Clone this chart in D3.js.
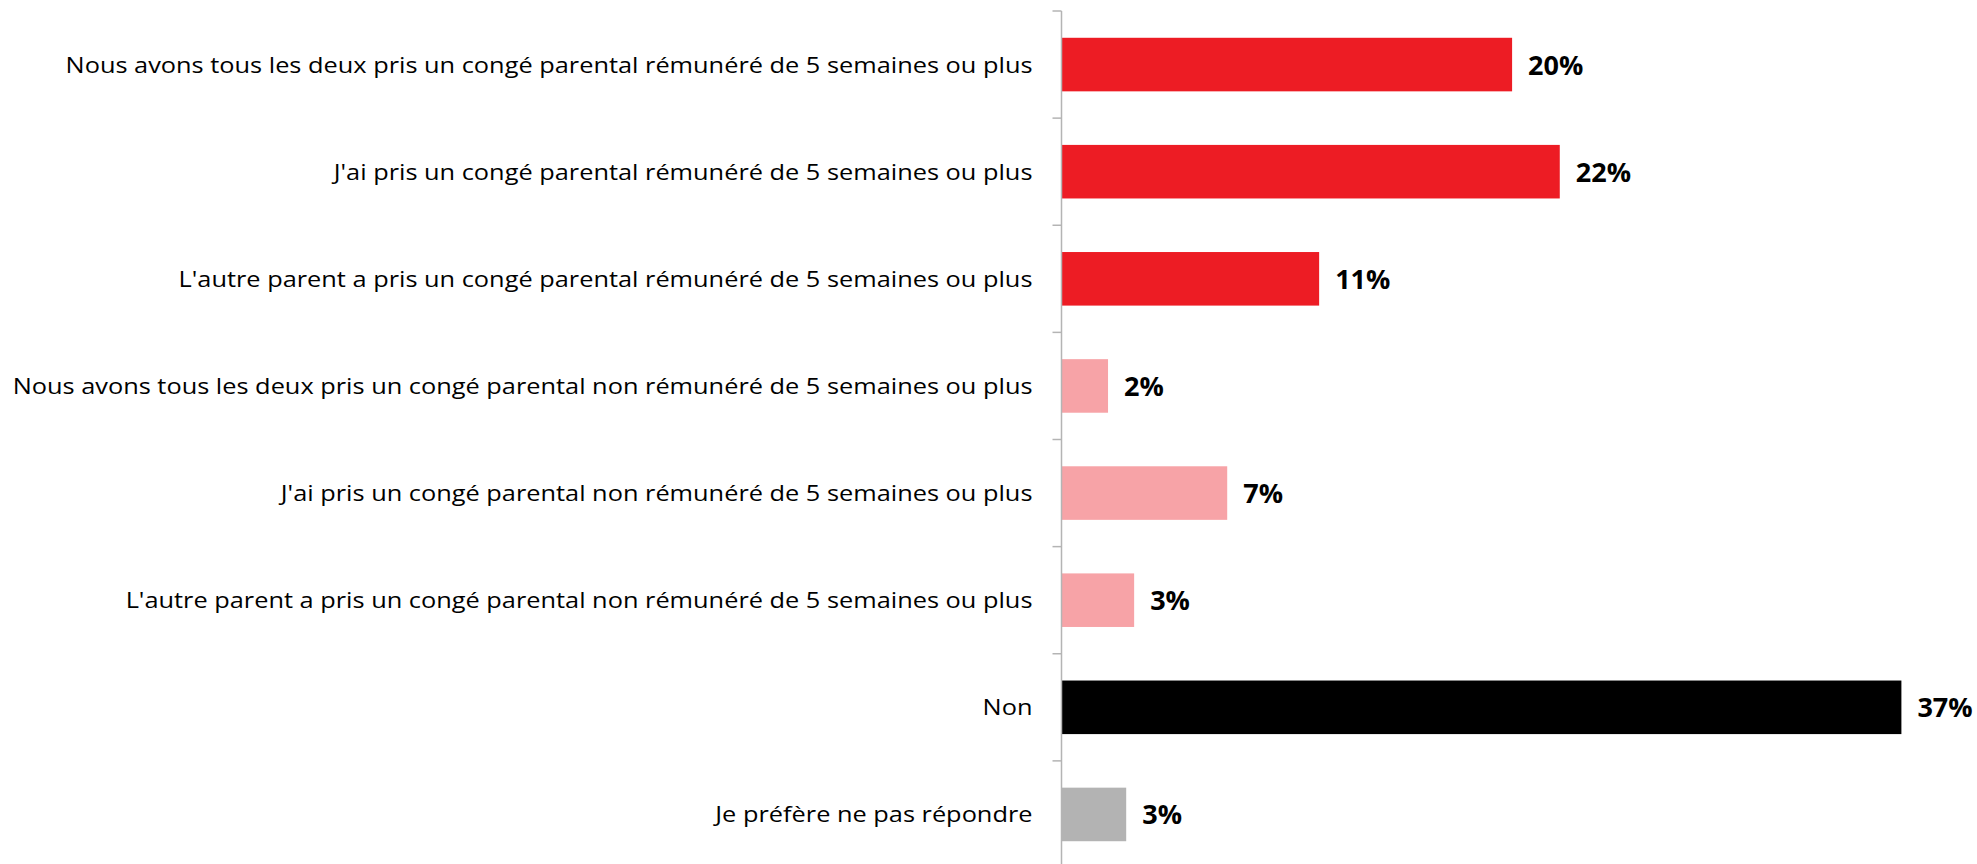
<!DOCTYPE html>
<html>
<head>
<meta charset="utf-8">
<script src="https://cdn.jsdelivr.net/npm/d3@7"></script>
<style>
  body { margin: 0; background: #fff; }
  text { font-family: "Open Sans", sans-serif; }
</style>
</head>
<body>
<script>
var categories = [
    "Nous avons tous les deux pris un congé parental rémunéré de 5 semaines ou plus",
    "J'ai pris un congé parental rémunéré de 5 semaines ou plus",
    "L'autre parent a pris un congé parental rémunéré de 5 semaines ou plus",
    "Nous avons tous les deux pris un congé parental non rémunéré de 5 semaines ou plus",
    "J'ai pris un congé parental non rémunéré de 5 semaines ou plus",
    "L'autre parent a pris un congé parental non rémunéré de 5 semaines ou plus",
    "Non",
    "Je préfère ne pas répondre"
];
var values = [19.85, 21.95, 11.35, 2.05, 7.3, 3.2, 37.0, 2.85];
var valueLabels = ["20%", "22%", "11%", "2%", "7%", "3%", "37%", "3%"];
var colors = ["#ED1C24", "#ED1C24", "#ED1C24", "#F7A3A7", "#F7A3A7", "#F7A3A7", "#000000", "#B3B3B3"];

var W = 1977, H = 864;
var axisX = 1061.5;

var svg = d3.select('body').append('svg')
    .attr('width', W)
    .attr('height', H);

var x = d3.scaleLinear()
    .domain([0, 40])
    .range([axisX, axisX + 40 * 22.7]);

var y = d3.scaleBand()
    .domain(categories)
    .range([11, 868])
    .paddingInner(0.5)
    .paddingOuter(0.25);

// bars
svg.selectAll('.bar')
    .data(values)
    .enter()
    .append('rect')
    .attr('class', 'bar')
    .attr('x', x(0))
    .attr('y', (d, i) => y(categories[i]))
    .attr('width', (d) => x(d) - x(0))
    .attr('height', y.bandwidth())
    .attr('fill', (d, i) => colors[i]);

// axis line + ticks between categories
svg.append('line')
    .attr('x1', axisX).attr('x2', axisX)
    .attr('y1', 11).attr('y2', H)
    .attr('stroke', '#B4B4B4')
    .attr('stroke-width', 1.5);

svg.selectAll('.tick')
    .data(d3.range(categories.length + 1))
    .enter()
    .append('line')
    .attr('class', 'tick')
    .attr('x1', axisX - 9).attr('x2', axisX)
    .attr('y1', (i) => 11 + i * y.step())
    .attr('y2', (i) => 11 + i * y.step())
    .attr('stroke', '#B4B4B4')
    .attr('stroke-width', 1.5);

// category labels, stretched a bit wider like the original
var labels = svg.selectAll('.cat')
    .data(categories)
    .enter()
    .append('text')
    .attr('class', 'cat')
    .attr('text-anchor', 'end')
    .attr('font-size', 21)
    .attr('fill', '#000')
    .text((d) => d);

var maxW = d3.max(labels.nodes(), (n) => n.getComputedTextLength());
var sx = (axisX - 29 - 12) / maxW;

labels.attr('transform', (d) =>
    'translate(' + (axisX - 29) + ',' + (y(d) + y.bandwidth() / 2 + 8) + ') scale(' + sx + ',1)');

// value labels
svg.selectAll('.val')
    .data(values)
    .enter()
    .append('text')
    .attr('class', 'val')
    .attr('x', (d) => x(d) + 16)
    .attr('y', (d, i) => y(categories[i]) + y.bandwidth() / 2 + 10)
    .attr('font-size', 27)
    .attr('font-weight', 'bold')
    .attr('fill', '#000')
    .text((d, i) => valueLabels[i]);
</script>
</body>
</html>
